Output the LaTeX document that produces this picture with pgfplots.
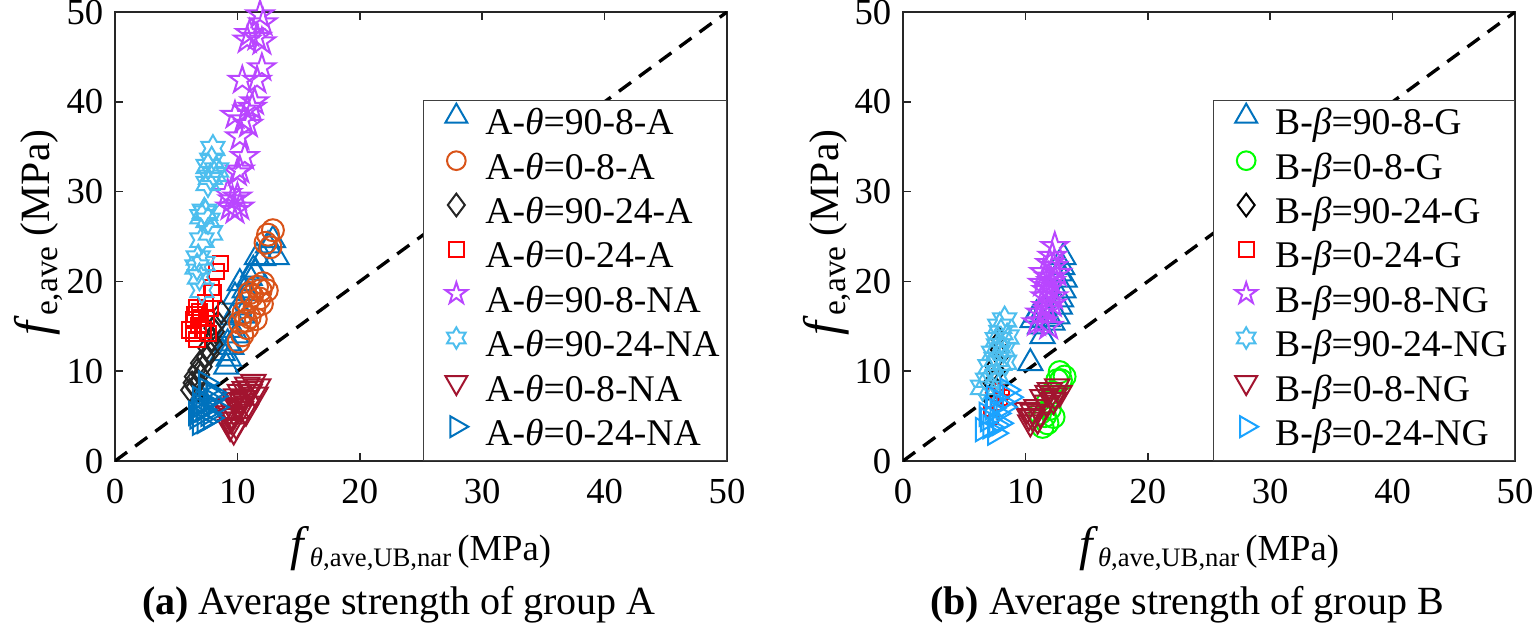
\documentclass[border=0pt]{standalone}
\usepackage{fontspec}
\setmainfont{Liberation Serif}
\usepackage{pgfplots}
\pgfplotsset{compat=1.18}

\definecolor{mblue}{RGB}{0,114,189}
\definecolor{morange}{RGB}{217,83,25}
\definecolor{mdark}{RGB}{38,38,38}
\definecolor{mred}{RGB}{255,0,0}
\definecolor{mpurple}{RGB}{185,70,255}
\definecolor{mcyan}{RGB}{77,190,238}
\definecolor{mdarkred}{RGB}{162,20,47}
\definecolor{mgreen}{RGB}{0,255,0}
\definecolor{mlblue}{RGB}{26,163,255}

\pgfdeclareplotmark{pstar}{%
  \pgfpathmoveto{\pgfpointpolar{90}{\pgfplotmarksize}}%
  \pgfpathlineto{\pgfpointpolar{126}{0.382*\pgfplotmarksize}}%
  \pgfpathlineto{\pgfpointpolar{162}{\pgfplotmarksize}}%
  \pgfpathlineto{\pgfpointpolar{198}{0.382*\pgfplotmarksize}}%
  \pgfpathlineto{\pgfpointpolar{234}{\pgfplotmarksize}}%
  \pgfpathlineto{\pgfpointpolar{270}{0.382*\pgfplotmarksize}}%
  \pgfpathlineto{\pgfpointpolar{306}{\pgfplotmarksize}}%
  \pgfpathlineto{\pgfpointpolar{342}{0.382*\pgfplotmarksize}}%
  \pgfpathlineto{\pgfpointpolar{18}{\pgfplotmarksize}}%
  \pgfpathlineto{\pgfpointpolar{54}{0.382*\pgfplotmarksize}}%
  \pgfpathclose\pgfusepathqstroke}
\pgfdeclareplotmark{hstar}{%
  \pgfpathmoveto{\pgfpointpolar{90}{\pgfplotmarksize}}%
  \pgfpathlineto{\pgfpointpolar{120}{0.577*\pgfplotmarksize}}%
  \pgfpathlineto{\pgfpointpolar{150}{\pgfplotmarksize}}%
  \pgfpathlineto{\pgfpointpolar{180}{0.577*\pgfplotmarksize}}%
  \pgfpathlineto{\pgfpointpolar{210}{\pgfplotmarksize}}%
  \pgfpathlineto{\pgfpointpolar{240}{0.577*\pgfplotmarksize}}%
  \pgfpathlineto{\pgfpointpolar{270}{\pgfplotmarksize}}%
  \pgfpathlineto{\pgfpointpolar{300}{0.577*\pgfplotmarksize}}%
  \pgfpathlineto{\pgfpointpolar{330}{\pgfplotmarksize}}%
  \pgfpathlineto{\pgfpointpolar{0}{0.577*\pgfplotmarksize}}%
  \pgfpathlineto{\pgfpointpolar{30}{\pgfplotmarksize}}%
  \pgfpathlineto{\pgfpointpolar{60}{0.577*\pgfplotmarksize}}%
  \pgfpathclose\pgfusepathqstroke}

\newcommand{\sub}[2]{\raisebox{-0.4ex}{\fontsize{#1}{10}\selectfont #2}}

\pgfplotsset{
  myax/.style={
    width=183.6pt, height=134.7pt, scale only axis,
    xmin=0, xmax=50, ymin=0, ymax=50,
    xtick={0,10,20,30,40,50}, ytick={0,10,20,30,40,50},
    tick align=inside, major tick length=2.5pt,
    axis line style={draw=black!85, line width=0.5pt},
    every tick/.style={black!85, line width=0.5pt},
    tick label style={font=\fontsize{11}{12}\selectfont},
    xticklabel style={yshift=-2pt},
    /pgf/number format/assume math mode=true,
    legend style={at={(1,0)}, anchor=south east, draw=black!75, fill=white,
      inner xsep=1pt, inner ysep=1pt, font=\fontsize{11.3}{13}\selectfont,
      row sep=0.8pt, nodes={inner sep=1pt, text height=8pt, text depth=2.5pt}},
    legend cell align=left,
    legend image code/.code={\path (0cm,0cm) (0.56cm,0cm); \draw[##1] plot coordinates {(0.3cm,0.1cm)};},
    every axis plot/.append style={only marks, line width=0.6pt},
  },
  tri/.style={mark=triangle, mark size=4.2pt, draw=#1, legend image post style={mark size=3.8pt}},
  cir/.style={mark=o, mark size=3.3pt, draw=#1, legend image post style={mark size=2.8pt}},
  dia/.style={mark=diamond, mark size=3.4pt, draw=#1, legend image post style={mark size=3.4pt}},
  sqr/.style={mark=square, mark size=2.3pt, draw=#1, legend image post style={mark size=2.2pt}},
  pst/.style={mark=pstar, mark size=4.2pt, draw=#1, legend image post style={mark size=3.4pt}},
  hst/.style={mark=hstar, mark size=4.0pt, draw=#1, legend image post style={mark size=3.2pt}},
  itri/.style={mark=triangle, mark size=4.2pt, draw=#1, mark options={rotate=180}, legend image post style={mark size=3.8pt}},
  rtri/.style={mark=triangle, mark size=4.0pt, draw=#1, mark options={rotate=-90}, legend image post style={mark size=3.6pt}},
}

\begin{document}
\begin{tikzpicture}
\begin{axis}[myax, name=a, at={(0,0)}, anchor=south west]
\addplot[tri=mblue] coordinates {(12.9,24.6)(12.5,24.0)(13.2,22.7)(11.6,22.7)(12.1,22.6)(11.3,21.3)(11.0,20.4)(10.2,19.8)(10.8,18.7)(9.8,18.3)(10.1,17.1)(9.6,16.0)(9.4,14.6)(9.2,13.1)(8.8,12.0)(9.1,10.5)(9.5,12.7)(10.4,16.2)(11.5,21.0)(9.9,14.0)(10.6,19.0)(9.3,11.4)};
\addlegendentry{A-\textit{θ}=90-8-A}
\addplot[cir=morange] coordinates {(12.9,25.7)(12.5,25.2)(12.3,24.3)(12.7,23.8)(12.1,19.8)(11.6,19.4)(12.4,19.0)(11.0,18.7)(11.8,18.1)(10.8,17.6)(11.4,17.1)(10.5,16.5)(11.0,16.0)(10.2,15.4)(10.8,14.8)(10.1,13.3)(10.4,14.0)(11.2,18.4)(12.0,17.5)(11.5,15.8)(11.9,19.0)(10.7,15.6)};
\addlegendentry{A-\textit{θ}=0-8-A}
\addplot[dia=mdark] coordinates {(8.7,16.6)(8.4,15.4)(8.2,14.4)(7.9,13.5)(7.5,12.6)(7.4,11.6)(6.9,10.9)(6.7,10.1)(6.4,9.4)(6.3,8.7)(6.1,7.9)(6.5,8.2)(7.2,10.5)(7.8,12.0)(8.0,14.8)(7.0,9.6)(8.1,13.0)(6.8,8.9)};
\addlegendentry{A-\textit{θ}=90-24-A}
\addplot[sqr=mred] coordinates {(8.6,22.0)(8.3,21.1)(7.9,19.3)(8.0,18.7)(7.4,17.6)(6.7,17.1)(6.9,16.6)(7.5,16.0)(6.4,15.7)(6.8,15.1)(7.2,14.6)(6.4,14.2)(6.7,13.5)(7.6,14.2)(6.1,14.6)(7.0,16.0)(7.8,17.0)(6.5,16.3)};
\addlegendentry{A-\textit{θ}=0-24-A}
\addplot[pst=mpurple] coordinates {(11.85,49.7)(12.1,48.8)(11.0,47.6)(10.8,46.9)(11.6,47.2)(12.0,46.7)(12.0,43.8)(10.4,42.4)(11.6,42.4)(9.8,38.5)(10.8,39.1)(11.2,39.4)(10.5,38.0)(10.2,36.1)(10.6,33.9)(10.2,32.4)(10.0,32.1)(9.2,29.8)(9.6,29.1)(10.0,29.4)(10.2,28.3)(9.4,28.3)(9.8,27.9)(11.4,40.0)(10.9,37.5)};
\addlegendentry{A-\textit{θ}=90-8-NA}
\addplot[hst=mcyan] coordinates {(8.0,34.8)(7.9,33.5)(7.6,32.8)(8.3,32.4)(7.8,31.6)(7.6,30.9)(8.1,31.9)(7.4,27.6)(7.6,26.8)(7.1,27.2)(7.8,25.4)(7.1,24.6)(6.8,22.6)(7.2,22.0)(6.7,21.6)(6.9,20.5)(7.1,19.0)(7.3,27.8)};
\addlegendentry{A-\textit{θ}=90-24-NA}
\addplot[itri=mdarkred] coordinates {(11.3,8.8)(10.8,8.5)(11.7,8.3)(10.2,7.7)(11.0,7.7)(9.7,6.8)(10.5,7.0)(9.4,6.2)(10.0,6.2)(9.2,5.3)(9.8,5.3)(9.5,4.6)(9.4,3.8)(10.3,5.8)(11.1,8.1)(9.6,5.0)(9.9,7.2)(10.6,8.0)(10.9,6.4)(9.3,4.6)(9.9,4.0)(10.4,6.6)(11.5,7.4)(9.1,6.0)(10.7,5.5)(9.7,3.4)};
\addlegendentry{A-\textit{θ}=0-8-NA}
\addplot[rtri=mblue] coordinates {(6.7,4.9)(7.2,5.7)(7.8,6.8)(8.0,7.6)(7.5,7.9)(6.9,4.2)(7.8,4.8)(8.2,6.0)(7.4,8.7)(6.8,5.6)(7.2,6.5)(6.6,5.3)(7.0,6.2)(7.6,5.2)(8.1,7.2)(7.3,4.4)(6.9,7.0)};
\addlegendentry{A-\textit{θ}=0-24-NA}
\addplot[black, no marks, sharp plot, line width=1pt, dash pattern=on 4.5pt off 3pt, forget plot] coordinates {(0,0)(50,50)};
\end{axis}

\begin{axis}[myax, name=b, at={(236.4pt,0)}, anchor=south west]
\addplot[tri=mblue] coordinates {(13.1,22.7)(12.8,20.9)(13.1,19.0)(12.8,17.2)(12.6,16.1)(10.6,15.7)(11.2,15.0)(11.4,13.9)(10.4,10.9)(12.2,15.4)(10.9,16.3)(13.2,20.2)(12.9,18.0)(11.8,15.8)(13.0,21.6)(11.5,16.8)};
\addlegendentry{B-\textit{β}=90-8-G}
\addplot[cir=mgreen] coordinates {(12.8,9.9)(13.2,9.4)(12.6,9.0)(12.2,7.6)(11.8,6.5)(11.2,5.3)(11.8,4.2)(11.4,3.8)(12.3,4.9)(12.0,5.8)(12.9,9.0)(11.6,5.0)};
\addlegendentry{B-\textit{β}=0-8-G}
\addplot[dia=black, mark size=1.6pt] coordinates {(7.9,14.2)(8.2,13.1)(7.5,12.4)(7.8,11.2)(7.1,10.5)(7.4,9.6)(6.9,8.7)(7.1,7.6)(7.7,8.5)(8.3,11.7)(7.6,13.5)(8.0,10.0)};
\addlegendentry{B-\textit{β}=90-24-G}
\addplot[sqr=mred, mark size=1.4pt] coordinates {(7.2,7.5)(7.6,6.2)(7.9,8.0)(7.0,5.5)(8.1,6.8)(7.4,4.6)(8.3,7.4)};
\addlegendentry{B-\textit{β}=0-24-G}
\addplot[pst=mpurple] coordinates {(12.4,23.9)(12.2,22.8)(12.3,21.7)(11.9,20.5)(12.0,19.4)(11.6,18.3)(11.7,17.2)(11.2,16.5)(11.4,15.5)(10.9,15.4)(11.9,15.0)(12.3,18.3)(11.4,19.8)(12.6,20.9)(12.0,22.0)(11.8,16.8)(12.2,17.5)(11.5,21.0)(12.1,20.0)(11.7,19.0)};
\addlegendentry{B-\textit{β}=90-8-NG}
\addplot[hst=mcyan] coordinates {(8.3,15.7)(7.9,15.0)(8.5,13.8)(7.7,13.5)(8.2,12.4)(7.4,12.0)(7.9,10.9)(7.1,10.5)(7.7,9.4)(6.9,9.0)(6.5,8.2)(7.2,8.1)(8.0,14.3)(7.6,11.3)(8.3,11.0)(7.8,12.8)};
\addlegendentry{B-\textit{β}=90-24-NG}
\addplot[itri=mdarkred] coordinates {(12.6,8.3)(12.0,7.9)(12.8,7.6)(11.4,7.1)(12.3,6.8)(10.9,6.0)(10.1,5.7)(10.6,4.9)(10.4,4.3)(11.2,5.3)(11.7,6.5)(11.8,7.6)(10.6,5.5)(11.0,4.6)(12.4,7.3)(10.3,5.0)};
\addlegendentry{B-\textit{β}=0-8-NG}
\addplot[rtri=mlblue] coordinates {(8.5,7.9)(8.7,7.1)(8.2,6.0)(7.4,7.1)(7.7,5.3)(6.9,4.6)(7.1,3.8)(6.5,3.5)(7.9,4.2)(7.5,3.1)(8.0,6.6)(7.3,5.9)(6.8,5.2)(7.6,4.0)};
\addlegendentry{B-\textit{β}=0-24-NG}
\addplot[black, no marks, sharp plot, line width=1pt, dash pattern=on 4.5pt off 3pt, forget plot] coordinates {(0,0)(50,50)};
\end{axis}

\foreach \n/\c in {a/{\textbf{(a)} Average strength of group A}, b/{\textbf{(b)} Average strength of group B}}{
  \node[anchor=base, font=\fontsize{11}{13}\selectfont, inner sep=0pt] at ([yshift=-29.7pt]\n.south)
    {{\fontsize{14.5}{16}\selectfont\textit{f}}\sub{8}{\textit{θ},ave,UB,nar}\,(MPa)};
  \node[anchor=base, font=\fontsize{12}{14}\selectfont, inner sep=0pt] at ([xshift=-6.6pt, yshift=-45.9pt]\n.south) {\c};
  \node[anchor=base, rotate=90, font=\fontsize{12.5}{15}\selectfont, inner sep=0pt] at ([xshift=-19.5pt, yshift=1.2pt]\n.west)
    {{\fontsize{15}{16}\selectfont\textit{f}}\sub{10}{e,ave} (MPa)};
}
\pgfresetboundingbox
\path[use as bounding box] ([shift={(-34.5pt,-51.3pt)}]a.south west) rectangle ([shift={(6.3pt,3.6pt)}]b.north east);
\end{tikzpicture}
\end{document}
